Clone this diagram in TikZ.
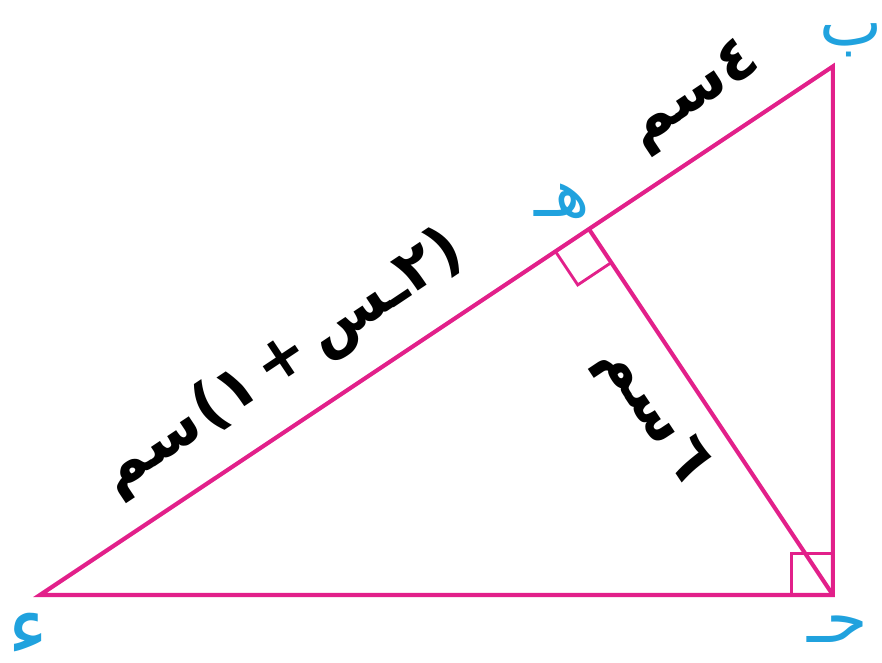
\documentclass[tikz,border=0pt]{standalone}
\usepackage{fontspec}
\newfontfamily\arabicfont[Script=Arabic]{DejaVu Sans}
\newfontfamily\parfont{DejaVu Sans}
\TeXXeTstate=1
\usepackage{xcolor}
\definecolor{tpink}{RGB}{226,32,138}
\definecolor{lblue}{RGB}{32,162,222}
\usetikzlibrary{calc}

% parentheses set apart, so that the right-to-left run keeps their shape
\newcommand{\lpar}{{\parfont\bfseries(}}
\newcommand{\rpar}{{\parfont\bfseries)}}

\begin{document}
\begin{tikzpicture}[
  side/.style={draw=tpink,line width=1.6pt,line join=miter},
  rmark/.style={draw=tpink,line width=1.1pt},
  vlabel/.style={text=lblue,font=\arabicfont\fontsize{26}{28}\selectfont,inner sep=0pt,
    text height=0.5em,text depth=0.1em},
  len/.style={font=\arabicfont\bfseries\fontsize{24}{26}\selectfont,sloped,inner sep=2pt}
]
  \useasboundingbox (-0.546,-0.928) rectangle (11.487,8.117);

  % Vertices
  \coordinate (D) at (0,0);
  \coordinate (C) at (10.817,0);
  \coordinate (B) at (10.817,7.211);
  \coordinate (H) at ($(D)!9/13!(B)$);

  % Right angle marks
  \draw[rmark] ($(C)+(-0.57,0)$) -- ++(0,0.57) -- ++(0.57,0);
  \begin{scope}[shift={(H)},rotate=33.69]
    \draw[rmark] (-0.55,0) -- (-0.55,-0.55) -- (0,-0.55);
  \end{scope}

  % Sides
  \draw[side] (D) -- (C) -- (B) -- cycle;
  \draw[side] (H) -- (C);

  % Lengths
  \path (H) -- (B) node[len,above=0.25cm,pos=0.55] (lhb) {\beginR ٤سم\endR};
  \path (D) -- (H) node[len,above=0.3cm,pos=0.5] (ldh)
    {\beginR \rpar٢ـس\hspace{0.15em}+\hspace{0.15em}١\lpar\hspace{0.05em}سم\endR};
  \path (H) -- (C) node[len,below=0.25cm,pos=0.43] (lhc) {\beginR ٦\hspace{0.1em}سم\endR};

  % Vertex labels
  \node[vlabel] (lb) at (11.07,7.56) {\beginR ب\endR};
  \node[vlabel] (lh) at (7.12,5.23) {\beginR هـ\endR};
  \node[vlabel] (lc) at (10.88,-0.58) {\beginR حـ\endR};
  \node[vlabel,font=\arabicfont\fontsize{34}{36}\selectfont,text depth=0pt] (ld) at (-0.16,-0.6)
    {\raisebox{-0.12em}{\beginR ء\endR}};
\end{tikzpicture}
\end{document}
